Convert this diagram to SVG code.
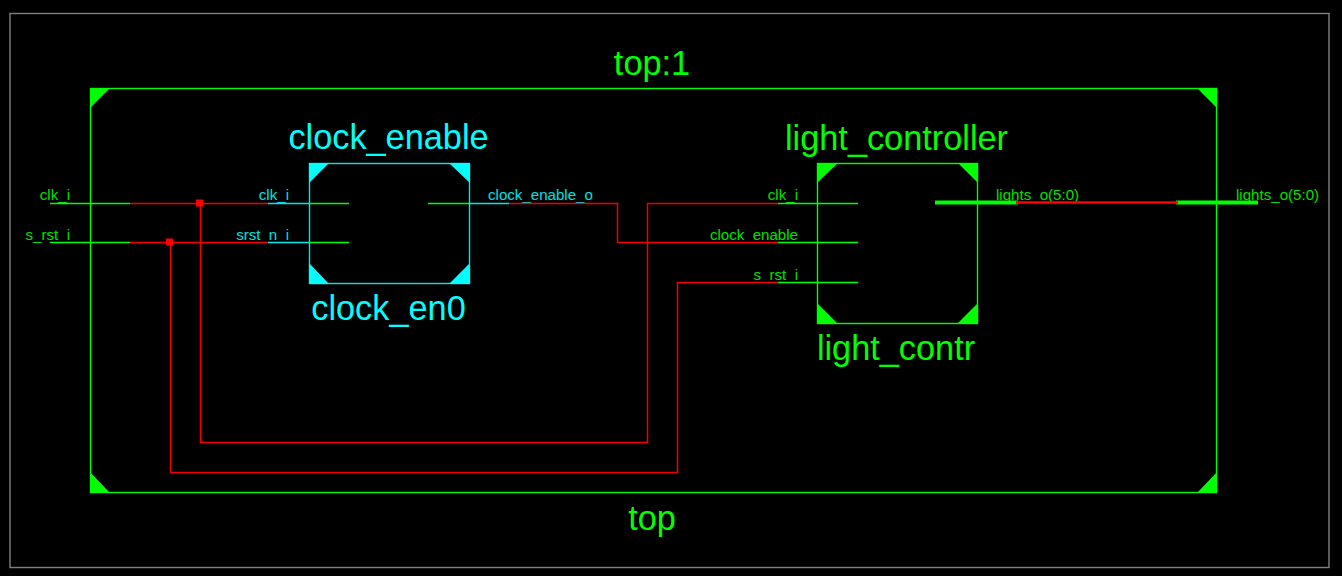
<svg xmlns="http://www.w3.org/2000/svg" width="1342" height="576" viewBox="0 0 1342 576">
<style>
text{font-family:"Liberation Sans",Arial,sans-serif}
.g{fill:#00ff00;stroke:none}
.c{fill:#00ffff;stroke:none}
.t{font-size:34.300px;text-anchor:middle}
.p{font-size:15.100px}
.dg{fill:#00e000}
.dc{fill:#00e0e0}
.e{text-anchor:end}
.box{fill:none;stroke-width:1.400}
.w{fill:none;stroke-width:1.500}
.r{stroke:#f00000}
.gl{stroke:#00ff00}
.cl{stroke:#00e8e8}
</style>
<rect width="1342" height="576" fill="#000"/>
<rect x="10" y="13.500" width="1319" height="554" fill="none" stroke="#808080" stroke-width="1.400"/>
<g id="top">
<rect class="box gl" x="90.500" y="88.500" width="1126" height="404"/>
<path class="g" d="M90 88h20l-20 20zM1197 88h20v20zM90 472l20 21h-20zM1217 472v21h-20z"/>
<text class="t g" x="652" y="75">top:1</text>
<text class="t g" x="652" y="530">top</text>
<text class="p dg e" x="70" y="199.500">clk_i</text>
<text class="p dg e" x="70" y="239.500">s_rst_i</text>
<text class="p dg" x="1236" y="199.500">lights_o(5:0)</text>
<path class="w gl" d="M50 203.500H130M50 242.500H130"/>
<path fill="none" stroke="#00ff00" stroke-width="4" d="M1176 202.500H1258"/>
</g>
<g id="clock_en0">
<rect class="box cl" x="309.500" y="163.500" width="160" height="120"/>
<path class="c" d="M309 163h20l-20 20zM449 163h21v20zM309 263l20 21h-20zM470 263v21h-21z"/>
<text class="t c" x="388.500" y="149">clock_enable</text>
<text class="t c" x="388.500" y="320">clock_en0</text>
<text class="p dc e" x="289" y="199.500">clk_i</text>
<text class="p dc e" x="289" y="239.500">srst_n_i</text>
<text class="p dc" x="488" y="199.500">clock_enable_o</text>
<path class="w cl" d="M268 203.500H309M268 242.500H309M469 203.500H509"/>
<path class="w gl" d="M309 203.500H349M309 242.500H349M428 203.500H469"/>
</g>
<g id="light_contr">
<rect class="box gl" x="817.500" y="163.500" width="160" height="160"/>
<path class="g" d="M817 163h21l-21 20zM958 163h20v20zM817 303l21 21h-21zM978 303v21h-21z"/>
<text class="t g" x="896.500" y="150">light_controller</text>
<text class="t g" x="896" y="360">light_contr</text>
<text class="p dg e" x="798" y="199.500">clk_i</text>
<text class="p dg e" x="798" y="239.500">clock_enable</text>
<text class="p dg e" x="798" y="279.500">s_rst_i</text>
<text class="p dg" x="996" y="199.500">lights_o(5:0)</text>
<path class="w gl" d="M778 203.500H858M778 242.500H858M778 282.500H858"/>
<path fill="none" stroke="#00ff00" stroke-width="4" d="M935 202.500H1018"/>
</g>
<g id="connectors">
<path class="w r" d="M130 203.500H268M130 242.500H268"/>
<path class="w r" d="M200.500 203.500V442.500H647.500V203.500H778"/>
<path class="w r" d="M170.500 242.500V472.500H677.500V282.500H778"/>
<path class="w r" d="M509 203.500H617.500V242.500H778"/>
<path fill="none" stroke="#ff0000" stroke-width="2.500" d="M1016 202.500H1178"/>
<rect x="196" y="199.500" width="7" height="7" fill="#f00"/>
<rect x="166" y="238.500" width="7" height="7" fill="#f00"/>
</g>
</svg>
